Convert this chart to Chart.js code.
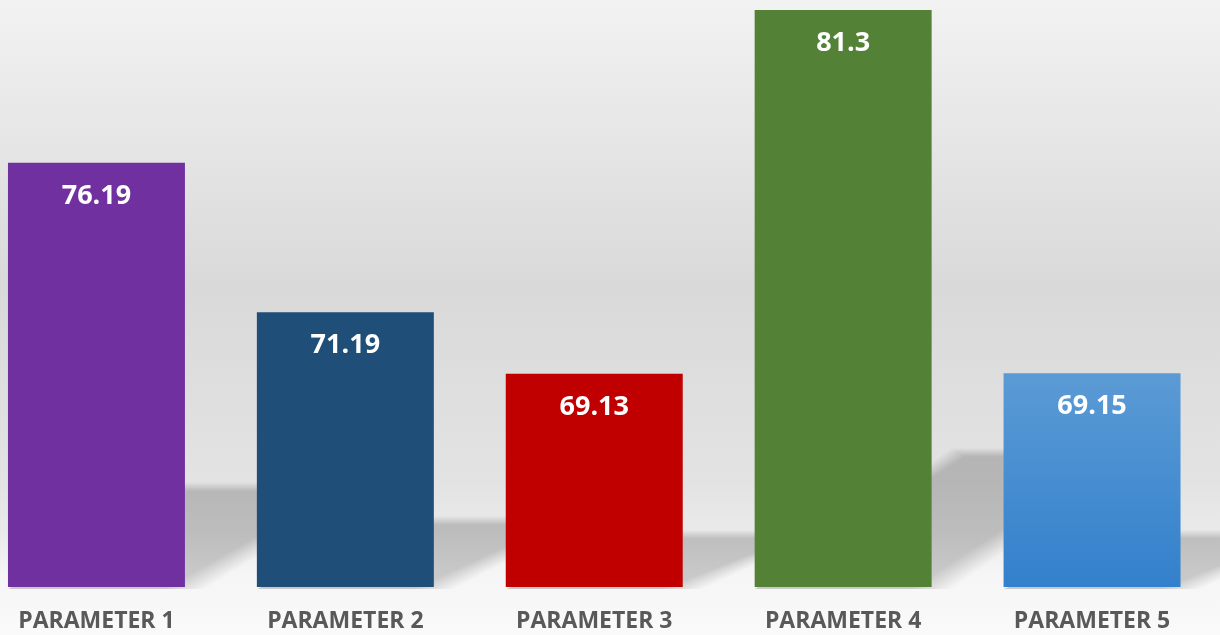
<!DOCTYPE html>
<html>
<head>
<meta charset="utf-8">
<script src="https://cdn.jsdelivr.net/npm/chart.js@4"></script>
<style>
  html, body { margin: 0; padding: 0; width: 1220px; height: 635px; overflow: hidden; background: #f5f5f5; }
  #wrap { position: absolute; left: -28px; top: 0; width: 1252px; height: 635px; }
</style>
</head>
<body>
<div id="wrap"><canvas id="c"></canvas></div>
<script>
const categories = ["PARAMETER 1", "PARAMETER 2", "PARAMETER 3", "PARAMETER 4", "PARAMETER 5"];
const values = [76.19, 71.19, 69.13, 81.3, 69.15];
const valueLabels = ["76.19", "71.19", "69.13", "81.3", "69.15"];
const barColors = ["#7030a0", "#1f4e79", "#c00000", "#538135", "gradient"];
const yMin = 62;
const yMax = 81.3;

function drawShadows(chart) {
  const ctx = chart.ctx;
  const meta = chart.getDatasetMeta(0);
  const yScale = chart.scales.y;
  const xScale = chart.scales.x;
  const base = yScale.getPixelForValue(yMin);
  const steps = [];
  for (let k = -7; k <= 7; k += 1) steps.push(k);
  ctx.save();
  ctx.fillStyle = 'rgba(0,0,0,' + (0.185 / steps.length) + ')';
  values.forEach((v, i) => {
    const bar = meta.data[i];
    const x = xScale.getPixelForValue(i);
    const y = yScale.getPixelForValue(v);
    const w = (bar && bar.width) ? bar.width : 177;
    const H = base - y;
    const sh = 0.225 * H + 5;
    const dx = 0.205 * H + 85;
    const left = x - w / 2;
    const right = x + w / 2;
    steps.forEach(k => {
      ctx.beginPath();
      ctx.moveTo(left, base + 2);
      ctx.lineTo(right + k * 2.8, base + 2);
      ctx.lineTo(right + dx + k * 2.8, base - sh - k * 0.6);
      ctx.lineTo(left + dx - k, base - sh - k * 0.6);
      ctx.closePath();
      ctx.fill();
    });
  });
  ctx.restore();
}

const bgPlugin = {
  id: 'bg',
  beforeDraw(chart) {
    const { ctx, width, height } = chart;
    const g = ctx.createLinearGradient(0, 0, 0, height);
    g.addColorStop(0, '#f2f2f2');
    g.addColorStop(0.45, '#d9d9d9');
    g.addColorStop(0.76, '#e3e3e3');
    g.addColorStop(0.84, '#eaeaea');
    g.addColorStop(0.9, '#f5f5f5');
    g.addColorStop(1, '#fafafa');
    ctx.save();
    ctx.fillStyle = g;
    ctx.fillRect(0, 0, width, height);
    ctx.restore();
    drawShadows(chart);
  }
};

const labelPlugin = {
  id: 'valueLabels',
  afterDatasetsDraw(chart) {
    const ctx = chart.ctx;
    const meta = chart.getDatasetMeta(0);
    ctx.save();
    ctx.fillStyle = '#ffffff';
    ctx.font = 'bold 27px "Open Sans"';
    ctx.textAlign = 'center';
    ctx.textBaseline = 'alphabetic';
    meta.data.forEach((bar, i) => {
      ctx.fillText(valueLabels[i], bar.x, bar.y + 41);
    });
    ctx.restore();
  }
};

function barColor(context) {
  const c = barColors[context.dataIndex];
  if (c !== 'gradient') return c;
  const chart = context.chart;
  const area = chart.chartArea;
  if (!area) return '#4a8fd2';
  const top = chart.scales.y.getPixelForValue(values[context.dataIndex]);
  const g = chart.ctx.createLinearGradient(0, top, 0, area.bottom);
  g.addColorStop(0, '#5b9bd5');
  g.addColorStop(1, '#3380cc');
  return g;
}

new Chart(document.getElementById('c'), {
  type: 'bar',
  data: {
    labels: categories,
    datasets: [{
      data: values,
      backgroundColor: barColor,
      borderWidth: 0,
      barPercentage: 0.711,
      categoryPercentage: 1.0
    }]
  },
  options: {
    responsive: true,
    maintainAspectRatio: false,
    animation: false,
    layout: { padding: { top: 10, right: 7.5, left: 0, bottom: 0 } },
    plugins: { legend: { display: false }, tooltip: { enabled: false } },
    scales: {
      x: {
        grid: { display: false, drawTicks: false },
        border: { display: false },
        ticks: {
          color: '#595959',
          font: { family: '"Open Sans"', size: 23, weight: 'bold' },
          padding: 21,
          maxRotation: 0,
          autoSkip: false
        },
        afterFit(scale) { scale.height = 48; }
      },
      y: {
        display: false,
        min: yMin,
        max: yMax
      }
    }
  },
  plugins: [bgPlugin, labelPlugin]
});
</script>
</body>
</html>
